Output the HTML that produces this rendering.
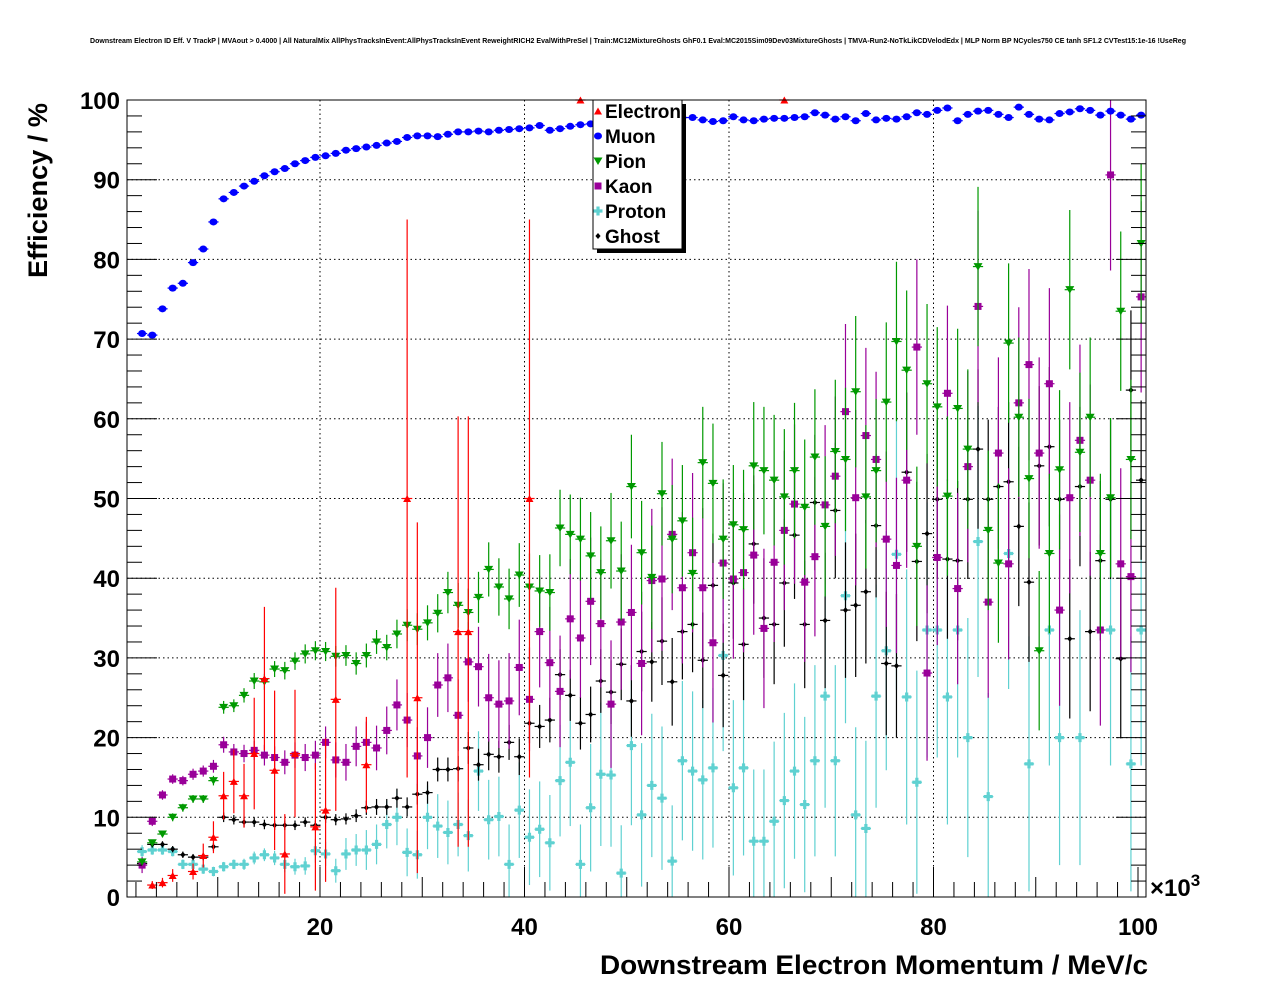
<!DOCTYPE html>
<html><head><meta charset="utf-8"><style>
html,body{margin:0;padding:0;background:#fff;}
svg{display:block;font-family:"Liberation Sans",sans-serif;}
</style></head><body>
<svg id="chart" width="1276" height="996" viewBox="0 0 1276 996" xmlns="http://www.w3.org/2000/svg">
<text x="90" y="43" font-size="7" font-weight="bold" textLength="1096" lengthAdjust="spacingAndGlyphs">Downstream Electron ID Eff. V TrackP | MVAout &gt; 0.4000 | All NaturalMix AllPhysTracksInEvent:AllPhysTracksInEvent ReweightRICH2 EvalWithPreSel | Train:MC12MixtureGhosts GhF0.1 Eval:MC2015Sim09Dev03MixtureGhosts | TMVA-Run2-NoTkLikCDVelodEdx | MLP Norm BP NCycles750 CE tanh SF1.2 CVTest15:1e-16 !UseReg</text>
<g id="grid"></g>
<g id="series"></g>
<g id="axes"></g>
<text transform="translate(47,278) rotate(-90)" font-size="27" font-weight="bold" textLength="175" lengthAdjust="spacingAndGlyphs">Efficiency / %</text>
<text x="600" y="974" font-size="27" font-weight="bold" textLength="548" lengthAdjust="spacingAndGlyphs">Downstream Electron Momentum / MeV/c</text>
<text x="1150" y="896" font-size="24" font-weight="bold">×10<tspan font-size="17" dy="-10">3</tspan></text>
<g id="legend"></g>
</svg>
<script>
const categories = Array.from({length:99},(_, i)=>2.6+i*0.997);
const xTicks = [20,40,60,80,100];
const yTicks = [0,10,20,30,40,50,60,70,80,90,100];
const seriesNames = ["Electron","Muon","Pion","Kaon","Proton","Ghost"];
const N = null;
const electronVals = [N,1.5,1.8,2.7,N,3.2,5.2,7.5,12.7,14.5,12.7,18,27.4,15.9,5.4,18,N,8.8,10.9,24.8,N,N,16.6,N,N,N,50,25,N,N,N,33.3,33.3,N,N,N,N,N,50,N,N,N,N,100,N,N,N,N,N,N,N,N,N,N,N,N,N,N,N,N,N,N,N,100,N,N,N,N,N,N,N,N,N,N,N,N,N,N,N,N,N,N,N,N,N,N,N,N,N,N,N,N,N,N,N,N,N,N,N];
const electronErr = [0,0.5,0.6,0.8,0,1,1.5,2,3,4,4,7,9,10,5,8,0,8,9,14,0,0,6,0,0,0,35,22,0,0,0,27,27,0,0,0,0,0,35,0,0,0,0,0,0,0,0,0,0,0,0,0,0,0,0,0,0,0,0,0,0,0,0,0,0,0,0,0,0,0,0,0,0,0,0,0,0,0,0,0,0,0,0,0,0,0,0,0,0,0,0,0,0,0,0,0,0,0,0];
const muonVals = [70.7,70.5,73.8,76.4,77,79.6,81.3,84.7,87.6,88.4,89.2,89.8,90.5,91,91.4,92,92.4,92.8,93,93.3,93.7,93.9,94.1,94.3,94.6,94.8,95.3,95.5,95.5,95.4,95.7,96,96,96.1,96,96.2,96.3,96.4,96.5,96.8,96.2,96.4,96.7,96.9,97,97.5,97.5,97,97.6,98,97.7,97.4,97.7,97.8,97.8,97.5,97.3,97.4,97.9,97.5,97.4,97.6,97.7,97.7,97.8,97.9,98.4,98.1,97.6,97.9,97.4,98.3,97.5,97.7,97.6,97.9,98.4,98.2,98.7,99.0,97.4,98.2,98.6,98.7,98.2,97.8,99.1,98.2,97.6,97.5,98.3,98.5,98.9,98.7,98.1,98.6,98.1,97.6,98.1];
const pionVals = [4.4,6.8,7.9,10,11.2,12.3,12.3,14.6,23.8,24,25.3,27.1,27,28.6,28.4,29.6,30.5,30.9,30.8,30.2,30.3,29.3,30.3,32,31.3,33,34.1,33.6,34.4,35.6,38.2,36.6,35.7,37.6,41.1,38.9,37.4,40.4,38.9,38.4,38.2,46.3,45.5,44.9,42.8,40.7,44.7,40.9,51.5,43.2,40.1,50.6,44.9,47.2,40.6,54.5,51.9,44.9,46.7,46.1,54.1,53.5,52.3,50.2,53.5,48.9,55.2,46.5,55.9,54.9,63.4,50.2,53.5,62.1,69.7,66.1,44,64.4,61.5,50.3,61.3,56.2,79.1,46,41.9,69.5,60.2,52.5,30.9,43.1,53.6,76.2,55.8,60.2,43.1,50.1,73.5,54.9,82];
const pionErr = [0.4,0.4,0.4,0.5,0.5,0.5,0.5,0.6,0.8,0.8,0.9,1,1,1,1.1,1.1,1.2,1.2,1.2,1.3,1.3,1.4,1.5,1.5,1.6,1.8,2,2,2.2,2.4,2.6,2.8,3,3.2,3.4,3.6,3.8,4,4.2,4.5,4.8,4.8,5,5.2,5.5,5.8,6,6.2,6.5,6.5,6.5,6.5,6.8,7,7,7,7.5,7.5,7.5,7.5,8,8,8.2,8.5,8.5,8.5,8.5,8.8,9,9,9.5,9,9,10,10,10,10,10,10,10,10,10,10,10,10,10,10,10,10,10,10,10,10,10,10,10,10,10,10,12];
const kaonVals = [4,9.5,12.8,14.8,14.6,15.4,15.8,16.4,19.1,18.2,18,18.4,17.8,17.5,16.9,17.8,17.5,17.8,19.4,17.2,16.9,18.9,19.4,18.7,20.9,24.1,22.2,17.7,20,26.6,27.5,22.8,29.5,28.9,25,24.2,24.6,28.8,24.8,33.3,29.4,25.8,34.9,32.5,37.1,34.3,24.2,34.5,35.7,29.3,39.7,39.9,45.5,38.8,43.2,38.8,31.9,41.9,39.9,40.7,42.9,33.7,42,46,49.3,39.5,42.7,49.2,52.8,60.9,50.1,57.9,54.9,44.9,41.6,52.3,69,28.1,42.6,63.2,38.7,54,74.1,37,55.7,41.8,62,66.8,55.7,64.4,36,50.1,57.3,52.3,33.5,90.6,41.8,40.2,75.3];
const kaonErr = [1,0.6,0.6,0.6,0.6,0.7,0.7,0.8,1,1,1.1,1.2,1.3,1.4,1.5,1.6,1.7,1.8,2,2.2,2.3,2.5,2.6,2.8,3,3.2,3.4,3.6,3.8,4,4.3,4.5,5,5,5.5,5.5,6,6,6.5,7,7,7,7.5,7.5,8,8,8,8.5,8.5,9,9,9,9.5,9.5,10,10,10,10,10,10,10,10,10,10,10,10,10,10,10,11,11,11,11,11,11,11,11,11,11,11,12,12,12,12,12,12,12,12,12,12,12,12,12,12,12,12,12,12,12];
const protonVals = [5.7,5.9,5.9,5.7,4.1,4.1,3.5,3.2,3.8,4.1,4.1,4.9,5.3,4.9,4.1,3.8,3.9,5.8,5.4,3.3,5.4,5.9,5.9,6.6,9.1,10,5.6,5.3,10,8.9,8.1,9.1,7.7,15.8,9.7,10.1,4.1,10.9,7.5,8.5,6.8,14.6,16.9,4.1,11.2,15.4,15.3,3,19,10.3,14,12.4,4.5,17.1,15.8,14.7,16.2,30.3,13.7,16.2,7,7,9.5,12.1,15.8,11.6,17.1,25.2,17.1,37.8,10.3,8.6,25.2,30.9,43,25.1,14.4,33.5,33.5,25.1,33.5,20,44.6,12.6,N,43.1,N,16.7,N,33.5,20,N,20,N,N,33.5,N,16.7,33.5];
const protonErr = [0.8,0.6,0.6,0.6,0.6,0.6,0.6,0.6,0.6,0.6,0.7,0.8,0.8,0.9,1,1,1.1,1.5,1.5,1.5,2,2,2.5,2.5,3,3.5,3,3,4,4,4,4,4.5,5,5,5,5,6,6,6,6,7,8,5,8,9,9,6,10,9,9,9,7,10,10,10,10,12,11,11,9,9,10,11,11,11,12,14,12,16,11,11,14,15,17,16,14,16,16,16,16,15,17,13,0,17,0,16,0,17,16,0,16,0,0,17,0,16,17];
const ghostVals = [4.2,6.6,6.6,6,5.3,5,5,6.3,10,9.7,9.4,9.4,9.1,9,9,9,9.4,9,10,9.7,9.8,10.2,11.2,11.3,11.3,12.4,11.3,12.9,13.1,16,16,16.1,18.7,16.6,17.9,17.6,19.4,17.6,21.8,21.4,22.2,27.9,25.3,21.8,22.9,27.1,25.7,29.2,24.6,30.8,29.5,32.1,27,33.3,34.2,29.7,39.1,27.8,39.4,31.7,44.3,35,34.2,39.4,45.4,34.2,49.5,34.7,48.5,36,36.6,38.3,46.6,29.3,29,53.3,42.1,45.6,49.9,42.4,42.2,49.9,56.2,49.9,51.5,52.1,46.5,39.5,54.1,56.5,49.9,32.4,51.5,33.3,42.2,49.9,29.9,63.6,52.3];
const ghostErr = [0.4,0.4,0.4,0.4,0.4,0.4,0.4,0.5,0.6,0.6,0.6,0.6,0.6,0.6,0.6,0.6,0.6,0.6,0.7,0.7,0.7,0.8,0.9,1,1,1.2,1.2,1.3,1.4,1.5,1.5,1.6,2,2,2,2,2.2,2.3,2.5,2.7,2.8,3.2,3.2,3.3,3.5,4,4,4.5,4.5,5,5,5.5,5.5,6,6,6,6.5,6.5,7,7,7.5,7.5,7.5,8,8,8,8.5,8.5,8.5,8.5,9,9,9,9,9,10,10,10,10,10,10,10,10,10,10,10,10,10,10,10,10,10,10,10,10,10,10,10,10];

const X0=127, X1=1146, Y0=897, Y1=100;
function xs(v){return 115.5+10.225*v;}
function ys(v){return Y0-(v/100)*(Y0-Y1);}
const NS="http://www.w3.org/2000/svg";
function mk(tag,attrs,parent){const e=document.createElementNS(NS,tag);for(const k in attrs)e.setAttribute(k,attrs[k]);parent.appendChild(e);return e;}
const svg=document.getElementById('chart');
const grid=document.getElementById('grid');
const axes=document.getElementById('axes');
const ser=document.getElementById('series');
const leg=document.getElementById('legend');

const defs=mk('defs',{},svg);
const cp=mk('clipPath',{id:'pc'},defs);
mk('rect',{x:X0,y:Y1-6,width:X1-X0,height:Y0-Y1+6},cp);
ser.setAttribute('clip-path','url(#pc)');

xTicks.forEach(t=>{if(t<100){const l=mk('line',{x1:xs(t),x2:xs(t),y1:Y1,y2:Y0,stroke:'#000','stroke-width':1,'stroke-dasharray':'1.5,3'},grid);

}});
yTicks.forEach(t=>{if(t>0&&t<100){const l=mk('line',{x1:X0,x2:X1,y1:ys(t),y2:ys(t),stroke:'#000','stroke-width':1,'stroke-dasharray':'1.5,3'},grid);

}});

const fr=mk('rect',{x:X0,y:Y1,width:X1-X0,height:Y0-Y1,fill:'none',stroke:'#000','stroke-width':1},axes);


for(let v=0;v<=100;v+=2){const major=v%10===0;mk('line',{x1:X0,x2:X0+(major?30:15),y1:ys(v),y2:ys(v),stroke:'#000'},axes);mk('line',{x1:X1,x2:X1-(major?30:15),y1:ys(v),y2:ys(v),stroke:'#000'},axes);}
yTicks.forEach(t=>{const tx=mk('text',{x:120,y:ys(t)+9,'text-anchor':'end','font-size':24,'font-weight':'bold'},axes);tx.textContent=t;

});
for(let v=2;v<=100;v+=2){if(xs(v)<X0)continue;const major=v%20===0;const minor5=v%10===0;const len=major?30:(minor5?20:15);mk('line',{x1:xs(v),x2:xs(v),y1:Y0,y2:Y0-len,stroke:'#000'},axes);}
xTicks.forEach(t=>{const tx=mk('text',{x:xs(t),y:935,'text-anchor':'middle','font-size':24,'font-weight':'bold'},axes);tx.textContent=t;

});

function marker(kind,cx,cy,col,g){
  if(kind==='tri-up') return mk('polygon',{points:`${cx-4},${cy+3.5} ${cx+4},${cy+3.5} ${cx},${cy-3.5}`,fill:col},g);
  if(kind==='tri-down') return mk('polygon',{points:`${cx-4.5},${cy-3.5} ${cx+4.5},${cy-3.5} ${cx},${cy+4}`,fill:col},g);
  if(kind==='circle') return mk('ellipse',{cx:cx,cy:cy,rx:4,ry:3.5,fill:col},g);
  if(kind==='square') return mk('rect',{x:cx-3.5,y:cy-3.5,width:7,height:7,fill:col},g);
  if(kind==='cross') return mk('path',{d:`M${cx-1.6},${cy-4.5}h3.2v2.9h2.9v3.2h-2.9v2.9h-3.2v-2.9h-2.9v-3.2h2.9z`,fill:col},g);
  return mk('path',{d:`M${cx},${cy-3}L${cx+2.6},${cy}L${cx},${cy+3}L${cx-2.6},${cy}z`,fill:col},g);
}
const seriesDefs=[
 {name:'proton',vals:protonVals,err:protonErr,col:'#5fd1d1',kind:'cross'},
 {name:'ghost',vals:ghostVals,err:ghostErr,col:'#000',kind:'diamond'},
 {name:'kaon',vals:kaonVals,err:kaonErr,col:'#990099',kind:'square'},
 {name:'pion',vals:pionVals,err:pionErr,col:'#009900',kind:'tri-down'},
 {name:'electron',vals:electronVals,err:electronErr,col:'#ff0000',kind:'tri-up'},
 {name:'muon',vals:muonVals,err:null,col:'#0000ff',kind:'circle'}
];
seriesDefs.forEach(s=>{
  const g=mk('g',{},ser);
  
  
  s.vals.forEach((v,i)=>{
    if(v===null)return;
    const cx=xs(categories[i]), cy=ys(v);
    const hw=10.225*0.5;
    mk('line',{x1:cx-hw,x2:cx+hw,y1:cy,y2:cy,stroke:s.col,'stroke-width':1.2},g);
    if(s.err&&s.err[i]>0){
      const lo=Math.max(0,v-s.err[i]), hi=Math.min(100,v+s.err[i]);
      mk('line',{x1:cx,x2:cx,y1:ys(lo),y2:ys(hi),stroke:s.col,'stroke-width':1.2},g);
    }
    const m=marker(s.kind,cx,cy,s.col,g);
    
    
  });
});

mk('rect',{x:597,y:104,width:89,height:149,fill:'#000'},leg);
const lb=mk('rect',{x:593,y:100,width:89,height:149,fill:'#fff',stroke:'#000'},leg);


const legKinds=['tri-up','circle','tri-down','square','cross','diamond'];
const legCols=['#ff0000','#0000ff','#009900','#990099','#5fd1d1','#000'];
seriesNames.forEach((n,k)=>{
  const y=111+k*25;
  const g=mk('g',{},leg);
  
  
  marker(legKinds[k],598,y,legCols[k],g);
  const t=mk('text',{x:605,y:y+7,'font-size':19,'font-weight':'bold'},g);
  t.textContent=n;
});
</script>
</body></html>
